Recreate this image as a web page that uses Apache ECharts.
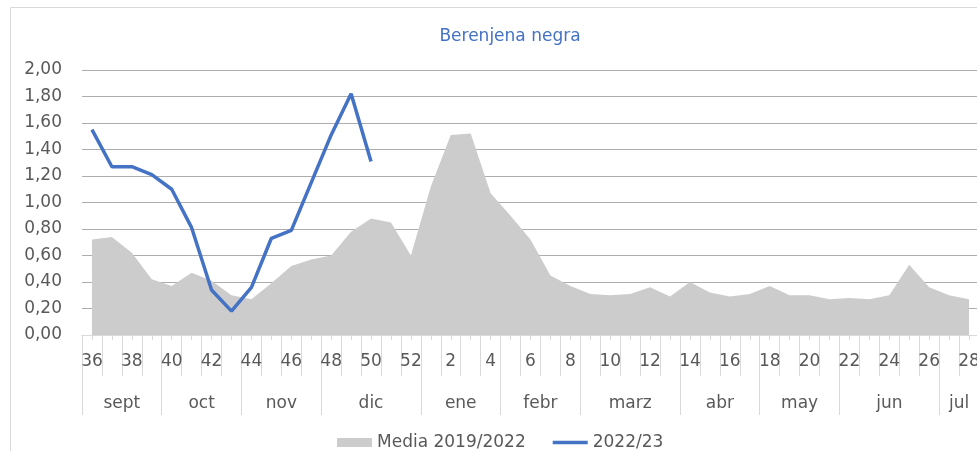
<!DOCTYPE html>
<html>
<head>
<meta charset="utf-8">
<script src="https://cdn.jsdelivr.net/npm/echarts@6/dist/echarts.min.js"></script>
<style>
  html, body { margin: 0; padding: 0; background: #fff; }
  #chart { width: 977px; height: 451px; }
</style>
</head>
<body>
<div id="chart"></div>
<script>
// weeks 36..52 then 1..28
const weeks = ['36','37','38','39','40','41','42','43','44','45','46','47','48','49','50','51','52',
  '1','2','3','4','5','6','7','8','9','10','11','12','13','14','15','16','17','18','19','20',
  '21','22','23','24','25','26','27','28'];

const media = [0.72, 0.74, 0.62, 0.42, 0.37, 0.47, 0.41, 0.30, 0.27, 0.39, 0.52, 0.57, 0.60, 0.78, 0.88, 0.85, 0.60,
  1.12, 1.51, 1.52, 1.07, 0.90, 0.72, 0.45, 0.37, 0.31, 0.30, 0.31, 0.36, 0.29, 0.40, 0.32, 0.29, 0.31, 0.37, 0.30,
  0.30, 0.27, 0.28, 0.27, 0.30, 0.53, 0.36, 0.30, 0.27];

const season = [1.55, 1.27, 1.27, 1.21, 1.10, 0.81, 0.34, 0.18, 0.36, 0.73, 0.79, 1.15, 1.51, 1.82, 1.31];

// month groups: name + number of weeks
const months = ['sept', 'oct', 'nov', 'dic', 'ene', 'febr', 'marz', 'abr', 'may', 'jun', 'jul'];
const monthWeeks = [4, 4, 4, 5, 4, 4, 5, 4, 4, 5, 2];

const yTicks = { min: 0, max: 2, interval: 0.2 };

const FONT = 'DejaVu Sans';
const TEXT = '#595959';
const LIGHT = '#D9D9D9';

// boundaries and centres of the month groups, in category units
const monthEdges = [0];
monthWeeks.forEach(n => monthEdges.push(monthEdges[monthEdges.length - 1] + n));
const monthMids = months.map((m, i) => (monthEdges[i] + monthEdges[i + 1]) / 2);

const seasonFull = weeks.map((w, i) => (i < season.length ? season[i] : null));

const chart = echarts.init(document.getElementById('chart'), null, { renderer: 'canvas' });

chart.setOption({
  animation: false,
  textStyle: { fontFamily: FONT },
  title: {
    text: 'Berenjena negra',
    left: 505,
    top: 23,
    textAlign: 'center',
    textStyle: { color: '#4472C4', fontSize: 17, fontWeight: 'normal', fontFamily: FONT }
  },
  graphic: [{
    type: 'rect',
    shape: { x: 10.5, y: 7.5, width: 1000, height: 500 },
    style: { fill: 'none', stroke: LIGHT, lineWidth: 1 },
    silent: true
  }],
  legend: {
    left: 332,
    top: 429,
    itemWidth: 35,
    itemHeight: 9,
    itemGap: 27,
    textStyle: { color: TEXT, fontSize: 17, fontFamily: FONT },
    data: [
      { name: 'Media 2019/2022', icon: 'rect' },
      { name: '2022/23', icon: 'path://M0,0L35,0L35,3.5L0,3.5Z' }
    ]
  },
  grid: { left: 82, top: 70, width: 897, height: 265, outerBoundsMode: 'none', containLabel: false },
  xAxis: [
    {
      type: 'category',
      data: weeks,
      position: 'bottom',
      boundaryGap: true,
      axisLine: { show: true, onZero: false, lineStyle: { color: LIGHT, width: 1 } },
      axisTick: { show: true, interval: 0, alignWithLabel: false, length: 41, lineStyle: { color: LIGHT } },
      axisLabel: { interval: 1, margin: 18, color: TEXT, fontSize: 17, fontFamily: FONT },
      splitLine: { show: false }
    },
    {
      type: 'category',
      data: weeks,
      position: 'bottom',
      boundaryGap: true,
      axisLine: { show: false },
      axisTick: { show: true, interval: 0, alignWithLabel: true, length: 5, lineStyle: { color: LIGHT } },
      axisLabel: { show: false },
      splitLine: { show: false }
    },
    {
      type: 'value',
      position: 'bottom',
      min: 0,
      max: weeks.length,
      axisLine: { show: false, onZero: false },
      axisTick: { show: true, customValues: monthEdges, length: 80, lineStyle: { color: LIGHT } },
      axisLabel: {
        show: true,
        customValues: monthMids,
        margin: 60,
        color: TEXT,
        fontSize: 17,
        fontFamily: FONT,
        formatter: v => {
          const i = monthMids.indexOf(v);
          return i >= 0 ? months[i] : '';
        }
      },
      splitLine: { show: false }
    }
  ],
  yAxis: {
    type: 'value',
    min: yTicks.min,
    max: yTicks.max,
    interval: yTicks.interval,
    axisLine: { show: false },
    axisTick: { show: false },
    axisLabel: {
      margin: 20,
      color: TEXT,
      fontSize: 17,
      fontFamily: FONT,
      formatter: v => v.toFixed(2).replace('.', ',')
    },
    splitLine: { lineStyle: { color: '#ADADAD', width: 1 } }
  },
  series: [
    {
      name: 'Media 2019/2022',
      type: 'line',
      xAxisIndex: 0,
      data: media,
      symbol: 'none',
      lineStyle: { width: 0 },
      itemStyle: { color: '#CCCCCC' },
      areaStyle: { color: '#CCCCCC', opacity: 1 },
      z: 2
    },
    {
      name: '2022/23',
      type: 'line',
      xAxisIndex: 0,
      data: seasonFull,
      symbol: 'none',
      connectNulls: false,
      lineStyle: { color: '#4472C4', width: 3.5 },
      itemStyle: { color: '#4472C4' },
      z: 3
    }
  ]
});
</script>
</body>
</html>
